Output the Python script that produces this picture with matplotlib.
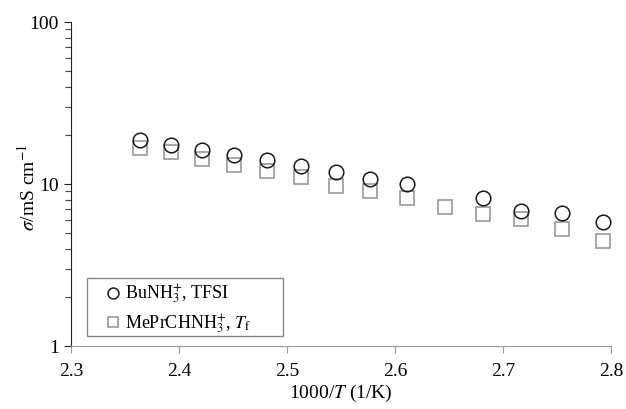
import matplotlib
matplotlib.use('Agg')
import matplotlib.pyplot as plt
from matplotlib.patches import Rectangle
from matplotlib.ticker import LogLocator, NullFormatter, FixedLocator

plt.rcParams['font.family'] = ['Liberation Serif', 'DejaVu Serif']
plt.rcParams['mathtext.fontset'] = 'stix'

# 1000/T (1/K)
inv_T = [2.364, 2.392, 2.421, 2.451, 2.481, 2.513, 2.545, 2.577, 2.611,
         2.646, 2.681, 2.717, 2.755, 2.793]
# BuNH3+ TFSI conductivity (mS/cm), no point at 2.646
inv_T_bu = [2.364, 2.392, 2.421, 2.451, 2.481, 2.513, 2.545, 2.577, 2.611,
            2.681, 2.717, 2.755, 2.793]
sigma_bu = [18.7, 17.4, 16.2, 15.2, 14.1, 13.0, 11.8, 10.8, 10.0,
            8.16, 6.81, 6.59, 5.85]
# MePrCHNH3+ Tf conductivity (mS/cm)
sigma_mepr = [16.7, 15.7, 14.3, 13.2, 12.1, 11.0, 9.76, 9.09, 8.16,
              7.24, 6.50, 6.06, 5.28, 4.47]

fig = plt.figure(figsize=(6.26, 4.09), dpi=100)
ax = fig.add_axes([0.114, 0.154, 0.862, 0.792])

ax.plot(inv_T, sigma_mepr, ls='none', marker='s', ms=10.5, mfc='white',
        mec='#909090', mew=1.1, label=r'MePrCHNH$_3^{+}$, $T_\mathrm{f}$', zorder=3)
ax.plot(inv_T_bu, sigma_bu, ls='none', marker='o', ms=10.5, mfc='none',
        mec='#1a1a1a', mew=1.1, label=r'BuNH$_3^{+}$, TFSI', zorder=4)

ax.set_yscale('log')
ax.set_xlim(2.3, 2.8)
ax.set_ylim(1, 100)
ax.xaxis.set_major_locator(FixedLocator([2.3, 2.4, 2.5, 2.6, 2.7, 2.8]))
ax.yaxis.set_major_locator(FixedLocator([1, 10, 100]))
ax.yaxis.set_major_formatter(plt.FuncFormatter(lambda v, p: f'{v:g}'))
ax.yaxis.set_minor_locator(LogLocator(base=10, subs=range(2, 10)))
ax.yaxis.set_minor_formatter(NullFormatter())

for s in ('top', 'right'):
    ax.spines[s].set_visible(False)
ax.spines['left'].set_color('#222222')
ax.spines['left'].set_linewidth(0.8)
ax.spines['bottom'].set_color('#999999')
ax.spines['bottom'].set_linewidth(0.8)

ax.tick_params(axis='y', which='major', direction='out', length=5, width=0.8,
               color='#222222', labelsize=14, pad=4)
ax.tick_params(axis='y', which='minor', direction='out', length=4, width=0.8,
               color='#444444')
ax.tick_params(axis='x', which='major', direction='out', length=5, width=0.8,
               color='#999999', labelsize=14, pad=7)

ax.set_xlabel(r'1000/$T$ (1/K)', fontsize=14, labelpad=2)
ax.set_ylabel(r'$\sigma$/mS cm$^{-1}$', fontsize=14)
ax.yaxis.set_label_coords(-0.06, 0.49)

# legend entries without frame, box drawn separately
handles, labels = ax.get_legend_handles_labels()
leg = ax.legend(handles[::-1], labels[::-1], loc='upper left',
                bbox_to_anchor=(0.06, 0.195), borderaxespad=0, borderpad=0,
                fontsize=13, frameon=False, handletextpad=0.15,
                handlelength=1.0, labelspacing=0.35, markerscale=0.75)
ax.add_patch(Rectangle((0.029, 0.031), 0.363, 0.179, transform=ax.transAxes,
                       fill=False, edgecolor='#888888', lw=1.0, zorder=5))

fig.savefig('out.png', dpi=100)
